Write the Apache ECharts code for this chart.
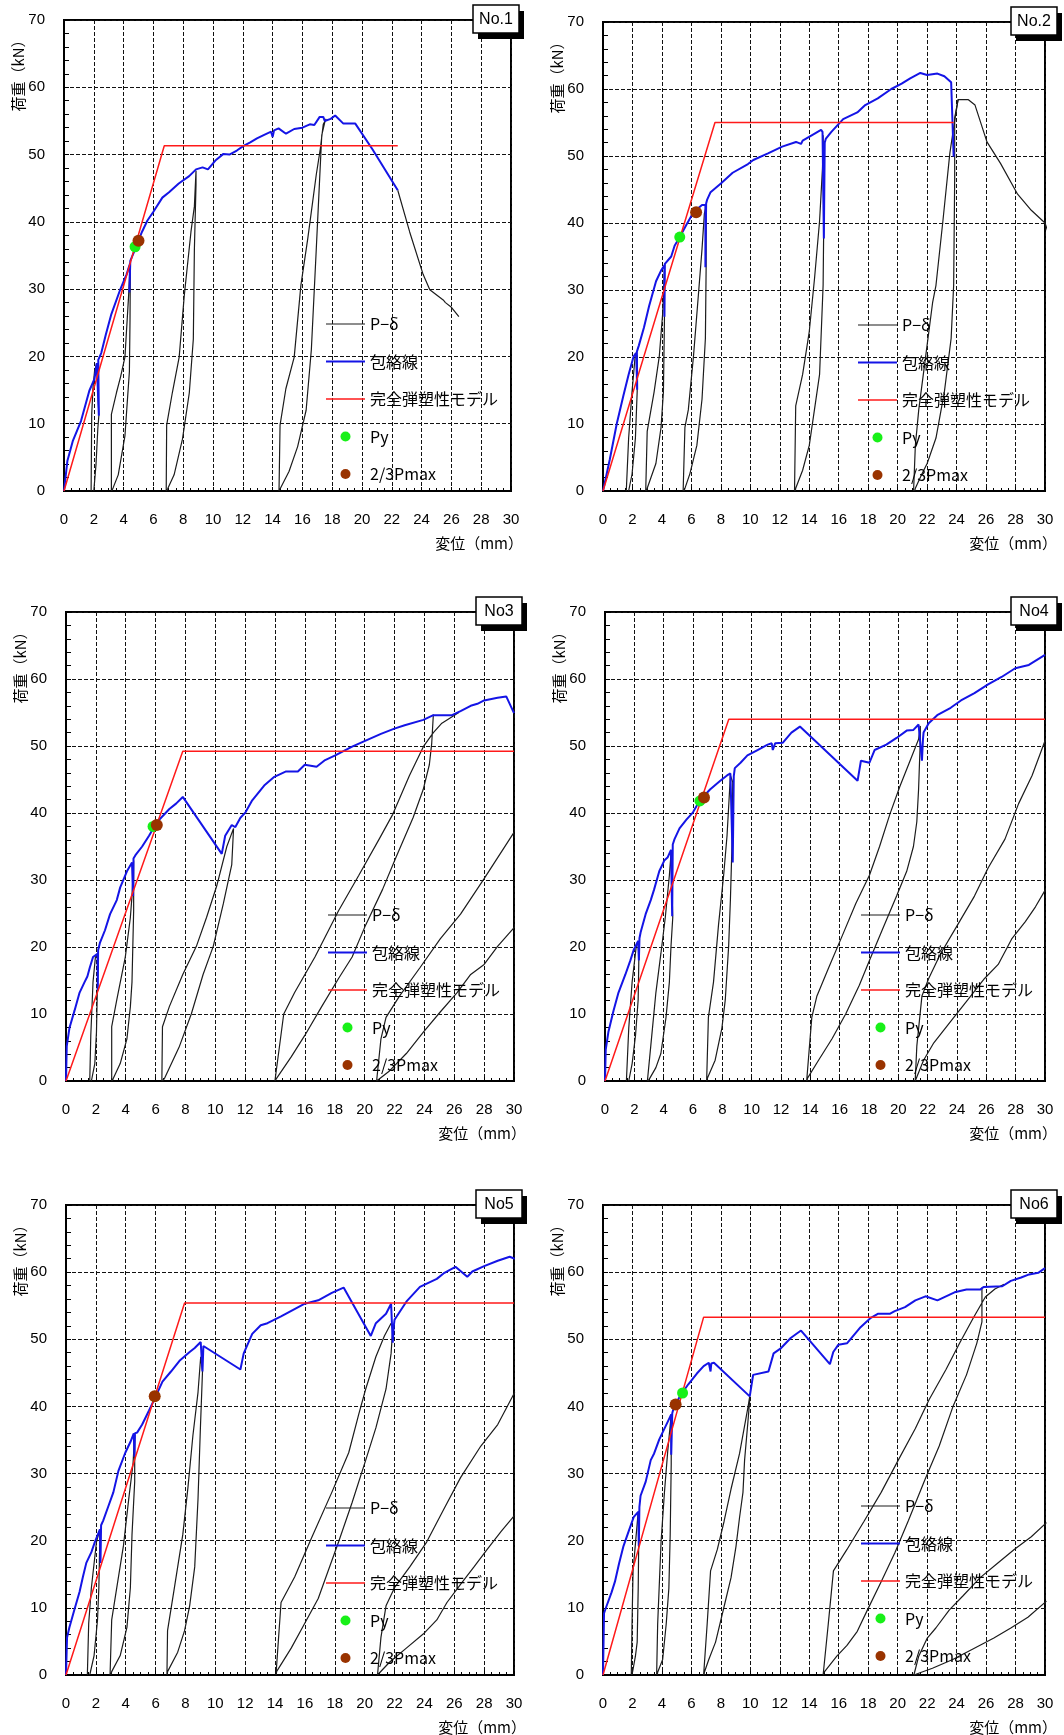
<!DOCTYPE html>
<html><head><meta charset="utf-8">
<script src="https://cdn.jsdelivr.net/npm/echarts@6/dist/echarts.min.js"></script>
<style>html,body{margin:0;padding:0;background:#fff}#c{width:1064px;height:1735px}</style>
</head><body><div id="c"></div>
<script>
// ---------------- axis definition ----------------
const X_MIN = 0, X_MAX = 30, X_STEP = 2;
const Y_MIN = 0, Y_MAX = 70, Y_STEP = 10;
const xAxisTitle = '変位（mm）';
const yAxisTitle = '荷重（kN）';
const seriesNames = ['P−δ', '包絡線', '完全弾塑性モデル', 'Py', '2/3Pmax'];
const panelNames = ['No.1', 'No.2', 'No3', 'No4', 'No5', 'No6'];

// ---------------- No.1 ----------------
const env1 = [[0,0],[0.23,4.5],[0.6,7.5],[1.14,10.4],[1.7,14.9],[2.05,16.7],[2.2,19.0],[2.34,11.2],[2.3,19.5],[2.5,20.5],[2.8,23.2],[3.18,26.3],[3.75,29.8],[4.2,32.2],[4.43,33.8],[4.39,29.5],[4.45,34.2],[4.77,35.9],[5.23,38.5],[5.6,40.2],[6.0,41.5],[6.6,43.6],[7.05,44.4],[7.7,45.7],[8.4,46.8],[8.86,47.8],[9.3,48.1],[9.66,47.8],[10.2,49.2],[10.7,50.1],[11.1,50.0],[11.6,50.6],[12.05,51.3],[12.5,51.8],[12.95,52.4],[13.4,52.9],[13.9,53.4],[14.0,52.6],[14.1,53.6],[14.4,53.9],[14.9,53.1],[15.45,53.8],[16.0,54.0],[16.5,54.5],[16.8,54.4],[17.16,55.6],[17.4,55.6],[17.5,55.0],[17.9,55.3],[18.2,55.8],[18.75,54.6],[19.55,54.6],[20.7,50.8],[22.4,44.7]];
const pd1 = [
 [[1.82,0],[1.86,11.4],[1.95,15.5],[2.05,17.8],[2.2,19.0],[2.34,11.2],[2.27,9.3],[2.15,4],[2.09,2.4],[2.0,0]],
 [[3.18,0],[3.18,11.4],[3.52,14.6],[3.8,17],[4.09,19.9],[4.32,28.4],[4.43,33.2],[4.45,32.7],[4.43,25.3],[4.39,17.8],[4.09,8.2],[3.64,2.4],[3.3,0.5],[3.2,0]],
 [[6.86,0],[6.89,9.8],[7.27,14.6],[7.73,19.9],[8.07,29],[8.52,38.5],[8.75,42.3],[8.86,47.6],[8.98,47.6],[8.86,45.5],[8.75,35.9],[8.68,22.6],[8.41,14.6],[7.95,7.7],[7.39,2.4],[6.95,0.3],[6.86,0]],
 [[14.43,0],[14.5,9.8],[14.89,15.2],[15.45,19.9],[15.9,30.6],[16.36,37.5],[16.93,47],[17.2,50.8],[17.4,54.5],[17.6,55.3],[17.5,54.8],[17.3,52.9],[17.16,46.5],[16.93,35.9],[16.6,21],[16.25,12],[15.68,6.6],[15.1,2.9],[14.5,0.3],[14.43,0]],
 [[22.4,44.7],[23.2,38.5],[24.1,32.2],[24.55,29.9],[25.45,28.4],[25.6,28.0],[26.0,27.3],[26.5,25.9]]
];
const model1 = [[0,0],[6.73,51.3],[22.4,51.3]];
const py1 = [4.77,36.3], pm1 = [5.0,37.2];

// ---------------- No.2 ----------------
const env2 = [[0,0],[0.46,4.7],[0.93,10.0],[1.39,14.3],[1.74,17.4],[2.08,20.1],[2.25,20.6],[2.32,15.1],[2.3,20.8],[2.43,21.7],[2.78,24.4],[3.13,27.6],[3.6,31.3],[3.94,32.9],[4.17,33.7],[4.17,26.0],[4.2,33.9],[4.29,34.0],[4.63,35.0],[4.86,36.6],[5.21,37.9],[5.68,39.8],[6.14,41.6],[6.72,42.7],[6.95,42.7],[6.95,33.4],[7.0,42.9],[7.07,43.5],[7.3,44.6],[8.0,45.9],[8.8,47.5],[9.84,48.8],[10.2,49.4],[11.2,50.4],[12.16,51.4],[13.1,52.1],[13.44,51.8],[13.55,52.3],[14.25,53.2],[14.8,53.9],[14.9,53.6],[14.99,37.7],[15.05,52.0],[15.13,52.6],[15.5,53.6],[16.3,55.5],[17.26,56.5],[17.8,57.6],[18.65,58.6],[19.57,60.0],[20.27,60.8],[20.85,61.6],[21.54,62.4],[22.0,62.1],[22.7,62.3],[23.17,61.9],[23.63,61.0],[23.8,49.9]];
const pd2 = [
 [[1.58,0],[1.74,7.9],[1.97,14.8],[2.2,20.6],[2.32,20.1],[2.32,14.8],[2.2,7.9],[1.97,2.5],[1.74,0]],
 [[2.9,0],[3.0,8.9],[3.47,14.8],[3.82,20.1],[4.05,26.5],[4.17,32.9],[4.17,25.4],[4.1,14.8],[3.94,9.5],[3.59,4.1],[3.0,0.4],[2.95,0]],
 [[5.44,0],[5.56,9.5],[5.79,12.1],[6.14,20.1],[6.49,29.7],[6.72,36.1],[6.88,41.4],[7.0,42.5],[7.0,33.4],[6.95,22.8],[6.72,13.7],[6.37,6.8],[5.9,2.6],[5.56,0.4],[5.5,0]],
 [[13.0,0],[13.08,12.7],[13.55,17.4],[14.0,23.8],[14.36,31.8],[14.7,40.3],[14.9,48.3],[14.94,53.1],[14.99,41.4],[14.94,30.7],[14.7,17.4],[14.0,6.8],[13.55,3.1],[13.08,0.4],[13.05,0]],
 [[21.08,0],[21.2,6.8],[21.43,12.1],[21.9,20.1],[22.37,28.1],[22.6,30.7],[23.07,40.3],[23.54,50.4],[23.9,55.7],[24.1,58.4],[24.8,58.4],[25.25,57.6],[26.06,52.1],[26.98,48.9],[28.14,44.3],[29.07,41.9],[30,40.0],[30.2,38.7]],
 [[21.15,0],[21.2,0.4],[21.66,2.6],[22.0,4.1],[22.6,7.9],[23.17,14.8],[23.63,22.8],[23.8,30.7],[23.87,46.7],[23.87,55.7],[24.1,58.4]]
];
const model2 = [[0,0],[7.6,55.0],[23.8,55.0]];
const py2 = [5.21,37.9], pm2 = [6.32,41.6];

// ---------------- No3 ----------------
const env3 = [[0,0],[0.05,5.2],[0.23,7.9],[0.57,10.5],[0.91,13.2],[1.25,14.8],[1.43,15.6],[1.59,16.9],[1.81,18.5],[2.11,19.0],[2.13,13.5],[2.15,19.5],[2.27,20.6],[2.61,22.5],[2.95,24.9],[3.4,27.0],[3.63,28.9],[4.08,31.3],[4.42,32.6],[4.49,27.6],[4.52,33.2],[4.65,33.7],[5.1,35.0],[5.56,36.6],[5.9,37.9],[6.24,39.0],[6.92,40.6],[7.37,41.4],[7.82,42.4],[10.43,33.9],[10.66,36.6],[11.1,38.2],[11.34,37.9],[11.68,39.3],[12.02,40.1],[12.47,41.9],[13.27,44.1],[13.95,45.4],[14.74,46.2],[15.53,46.2],[15.99,47.2],[16.78,46.9],[17.35,47.9],[18.03,48.6],[19.16,49.9],[19.95,50.7],[21.09,51.8],[21.99,52.6],[22.68,53.1],[23.93,53.9],[24.6,54.6],[25.85,54.6],[26.42,55.2],[27.1,56.0],[27.55,56.3],[28.0,56.8],[28.9,57.2],[29.48,57.4],[30,54.9]];
const pd3 = [
 [[1.59,0],[1.66,6.8],[1.81,14.8],[1.97,18.5],[2.15,19.0],[2.11,14.8],[2.04,7.3],[1.93,2.6],[1.7,0]],
 [[3.06,0],[3.06,8.1],[3.4,12.1],[3.97,18.5],[4.31,24.4],[4.42,27.6],[4.53,32.9],[4.53,25.4],[4.42,14.8],[4.31,11.1],[4.08,6.3],[3.63,2.6],[3.17,0.4],[3.1,0]],
 [[6.42,0],[6.46,8.1],[6.92,11.1],[7.82,15.9],[8.73,20.1],[9.41,24.4],[10.09,29.1],[10.77,35.0],[11.22,37.7],[11.1,32.3],[10.54,26.5],[9.86,20.1],[9.18,15.9],[8.39,10.0],[7.6,5.2],[6.6,0.4],[6.45,0]],
 [[24.6,54.7],[24.49,50.4],[24.33,47.2],[23.92,43.5],[23.24,39.3],[22.1,33.4],[21.2,28.6],[20.07,23.3],[19.16,18.5],[18.25,15.3],[17.12,11.1],[15.99,6.8],[15.08,3.6],[14.1,0.4],[13.99,0],[14.58,10.0],[15.31,13.2],[16.67,18.5],[18.25,25.4],[19.61,30.7],[20.97,36.1],[21.88,39.8],[23.0,45.6],[23.93,49.9],[24.6,52.0],[25.17,53.4],[25.96,54.5],[26.3,55.0]],
 [[30.05,23.0],[28.9,20.1],[28.0,17.4],[27.1,15.9],[26.19,13.2],[25.06,10.3],[23.93,7.3],[22.79,4.1],[21.66,1.5],[20.8,0],[21.09,6.3],[21.43,9.5],[22.34,12.7],[23.7,16.9],[25.06,21.2],[26.42,24.9],[28.0,30.2],[30.0,37.1]]
];
const model3 = [[0,0],[7.82,49.2],[30,49.2]];
const py3 = [5.83,38.0], pm3 = [6.08,38.2];

// ---------------- No4 ----------------
const env4 = [[0,0],[0.05,4.7],[0.23,7.3],[0.58,10.5],[0.92,13.2],[1.39,15.9],[1.73,18.0],[1.96,19.6],[2.26,20.9],[2.31,18.0],[2.35,21.3],[2.43,22.2],[2.77,24.9],[3.12,27.0],[3.35,28.6],[3.7,31.3],[4.04,32.9],[4.28,33.4],[4.5,34.5],[4.58,24.6],[4.62,35.3],[4.74,36.1],[5.08,37.7],[5.55,39.0],[6.0,40.1],[6.47,41.9],[7.16,43.5],[7.86,44.8],[8.32,45.6],[8.55,45.9],[8.71,32.6],[8.78,45.5],[8.85,46.7],[9.24,47.5],[9.71,48.6],[10.4,49.4],[11.09,50.2],[11.37,50.4],[11.44,49.4],[11.6,50.4],[12.13,50.5],[12.71,52.0],[13.29,52.9],[17.22,44.8],[17.45,47.8],[18.03,47.5],[18.38,49.4],[19.18,50.2],[19.88,51.2],[20.57,52.3],[21.03,52.4],[21.38,53.2],[21.5,53.1],[21.61,47.8],[21.68,51.0],[21.72,52.0],[22.07,53.4],[22.65,54.6],[23.57,55.7],[24.27,56.8],[25.19,57.9],[26.12,59.2],[27.04,60.3],[27.97,61.6],[28.9,62.1],[30,63.6]];
const pd4 = [
 [[1.46,0],[1.62,7.9],[1.85,14.8],[2.13,20.1],[2.26,20.9],[2.31,18.5],[2.26,12.1],[2.08,6.8],[1.85,2.6],[1.62,0]],
 [[2.89,0],[3.12,5.2],[3.47,13.2],[3.81,19.0],[4.11,24.4],[4.39,30.7],[4.5,33.9],[4.62,24.4],[4.5,20.1],[4.39,14.8],[4.16,9.5],[3.81,4.1],[3.47,2.0],[3.0,0.2],[2.95,0]],
 [[6.93,0],[7.05,9.5],[7.4,14.8],[7.74,23.3],[8.09,30.7],[8.32,36.6],[8.55,45.6],[8.71,44.6],[8.67,36.1],[8.55,27.0],[8.43,20.1],[8.2,12.1],[7.97,7.9],[7.51,3.1],[6.98,0.4],[6.95,0]],
 [[13.75,0],[14.1,9.5],[14.45,12.7],[15.25,16.9],[16.18,21.7],[17.1,26.5],[18.03,30.7],[18.72,35.0],[19.42,39.8],[20.11,44.0],[20.8,47.8],[21.38,51.0],[21.5,53.0],[21.5,51.0],[21.38,43.5],[21.26,38.7],[21.03,35.0],[20.57,31.3],[19.88,27.6],[18.95,22.8],[18.03,18.0],[17.34,14.3],[16.41,10.0],[15.48,6.3],[14.56,3.1],[13.8,0.4],[13.78,0]],
 [[30.04,28.6],[29.35,26.0],[28.66,23.8],[27.73,21.2],[26.81,17.4],[25.88,15.3],[24.73,12.1],[23.57,8.9],[22.42,5.7],[21.72,3.1],[21.15,0],[21.03,0],[21.26,5.2],[21.61,12.7],[22.07,15.3],[22.88,19.0],[24.04,23.3],[25.19,27.6],[26.12,31.8],[27.27,36.1],[28.2,41.4],[29.12,45.6],[30.04,51.0]]
];
const model4 = [[0,0],[8.44,54.0],[30,54.0]];
const py4 = [6.47,41.8], pm4 = [6.75,42.3];

// ---------------- No5 ----------------
const env5 = [[0,0],[0.07,5.6],[0.23,7.1],[0.57,9.8],[0.91,12.4],[1.13,14.6],[1.36,16.7],[1.7,18.3],[1.93,19.8],[2.27,21.7],[2.31,16.7],[2.35,22.3],[2.49,23.0],[2.83,25.1],[3.17,27.2],[3.51,30.4],[3.97,33.1],[4.31,34.7],[4.54,36.0],[4.58,32.5],[4.62,36.0],[4.76,36.1],[5.1,37.3],[5.56,39.4],[6.01,41.5],[6.46,43.7],[7.03,45.2],[7.6,46.8],[8.28,48.1],[8.62,48.7],[9.02,49.6],[9.14,45.2],[9.2,49.0],[9.25,49.2],[11.68,45.5],[11.9,47.9],[12.47,50.8],[13.04,52.1],[13.49,52.4],[14.4,53.4],[15.99,55.3],[16.89,55.8],[17.8,56.9],[18.59,57.7],[20.41,50.5],[20.75,52.4],[21.43,53.8],[21.77,55.3],[21.88,49.5],[21.95,52.0],[22.0,52.9],[22.79,55.6],[23.7,57.8],[24.83,59.0],[25.28,59.8],[26.08,60.8],[26.87,59.3],[27.21,60.1],[28.0,60.9],[28.91,61.7],[29.71,62.3],[30.05,62.0]];
const pd5 = [
 [[1.43,0],[1.52,7.7],[1.7,13.0],[2.04,19.8],[2.27,21.7],[2.27,20.9],[2.2,13.0],[2.11,8.2],[1.88,2.9],[1.59,0]],
 [[2.95,0],[3.06,8.2],[3.4,13.0],[3.85,19.3],[4.2,26.2],[4.49,31.5],[4.6,36.0],[4.6,28.8],[4.42,20.9],[4.31,13.0],[4.08,7.1],[3.63,2.9],[3.06,0.5],[3.0,0]],
 [[6.76,0],[6.8,6.6],[7.26,13.0],[7.82,20.9],[8.16,27.8],[8.5,35.7],[8.84,42.1],[9.02,47.4],[9.14,45.2],[9.0,36.8],[8.84,26.2],[8.62,16.1],[8.28,10.3],[7.94,6.6],[7.48,3.4],[6.8,0.5],[6.78,0]],
 [[14.06,0],[14.4,10.8],[15.31,14.6],[16.44,20.4],[17.8,27.2],[18.93,33.1],[19.61,38.9],[20.07,42.6],[20.75,47.4],[21.32,50.5],[21.77,52.4],[21.88,51.6],[21.77,47.9],[21.43,42.6],[20.75,36.8],[20.07,32.0],[19.16,25.7],[18.25,19.8],[17.57,15.6],[16.89,11.4],[15.99,7.7],[15.08,4.0],[14.1,0.5],[14.08,0]],
 [[30.05,23.8],[29.14,21.4],[28.23,18.8],[27.32,16.1],[26.42,13.5],[25.51,10.8],[24.83,8.2],[23.92,6.1],[22.79,4.0],[21.66,1.9],[20.86,0],[20.75,0],[21.09,5.6],[21.43,10.3],[22.0,13.0],[23.02,16.1],[24.15,19.8],[25.28,24.6],[26.42,29.4],[27.78,34.1],[28.91,37.3],[30.05,42.1]]
];
const model5 = [[0,0],[7.94,55.4],[30,55.4]];
const py5 = [5.94,41.5], pm5 = [5.94,41.5];

// ---------------- No6 ----------------
const env6 = [[0,0],[0.07,9.2],[0.23,10.2],[0.58,12.3],[0.81,13.9],[1.09,16.6],[1.39,19.2],[1.74,21.4],[2.08,23.5],[2.39,24.3],[2.43,19.2],[2.47,25.0],[2.55,26.7],[2.9,28.8],[3.24,32.0],[3.47,33.0],[3.82,35.1],[4.17,36.7],[4.52,38.3],[4.63,38.8],[4.63,32.8],[4.7,39.0],[4.75,39.4],[5.21,41.5],[5.79,43.3],[6.37,44.9],[6.83,46.0],[7.18,46.5],[7.3,45.2],[7.35,46.4],[7.53,46.5],[9.96,41.5],[10.19,44.7],[11.23,45.2],[11.58,47.9],[12.04,48.6],[12.74,50.2],[13.44,51.3],[15.4,46.3],[15.63,48.1],[15.98,49.2],[16.56,49.4],[17.48,51.8],[18.18,53.2],[18.65,53.8],[19.46,53.8],[19.8,54.2],[20.5,54.8],[21.2,55.8],[21.89,56.4],[22.7,55.8],[23.28,56.4],[23.86,57.0],[24.67,57.4],[25.6,57.4],[25.83,57.8],[27.1,57.9],[27.68,58.7],[28.38,59.2],[28.84,59.6],[29.54,59.9],[30,60.6]];
const pd6 = [
 [[1.92,0],[1.97,7.6],[2.04,15.5],[2.25,20.8],[2.39,24.3],[2.43,20.8],[2.39,12.9],[2.32,4.9],[2.2,2.8],[1.97,0]],
 [[3.64,0],[3.71,7.6],[3.94,19.8],[4.17,27.2],[4.4,33.5],[4.63,38.8],[4.63,31.4],[4.56,20.8],[4.47,12.9],[4.29,7.6],[4.05,2.3],[3.71,0.4],[3.68,0]],
 [[6.83,0],[7.07,7.6],[7.3,15.5],[7.76,18.7],[8.22,22.9],[8.69,27.7],[9.27,33.0],[9.84,39.9],[9.96,41.5],[9.96,41.0],[9.84,37.8],[9.61,32.0],[9.5,27.2],[9.27,23.5],[9.03,19.2],[8.69,14.5],[8.22,10.2],[7.64,4.9],[7.18,2.3],[6.88,0.4],[6.86,0]],
 [[25.72,57.7],[25.72,52.6],[25.37,49.4],[24.67,44.7],[23.74,39.9],[22.82,34.1],[21.89,29.3],[20.73,23.0],[19.81,18.2],[18.88,13.9],[17.95,9.7],[17.26,6.5],[16.56,4.4],[15.87,2.8],[15.0,0.4],[14.94,0],[15.29,7.6],[15.64,15.5],[16.56,18.7],[17.72,22.9],[18.88,27.2],[20.04,32.0],[21.2,36.7],[22.13,41.0],[23.28,45.5],[24.2,49.4],[25.14,53.2],[25.95,56.3],[26.6,57.5],[27.22,58.2]],
 [[30.1,11.0],[28.84,8.6],[27.68,7.0],[26.53,5.5],[25.14,3.9],[23.74,2.3],[22.36,1.0],[21.1,0],[21.08,0],[21.43,2.8],[22.01,5.5],[22.59,7.0],[23.51,9.7],[24.44,11.8],[25.6,14.5],[26.76,16.6],[27.91,18.7],[29.07,20.6],[30.1,22.7]]
];
const model6 = [[0,0],[6.83,53.3],[30,53.3]];
const py6 = [5.4,42.0], pm6 = [4.93,40.3];

const envs = [env1, env2, env3, env4, env5, env6];
const pds = [pd1, pd2, pd3, pd4, pd5, pd6];
const models = [model1, model2, model3, model4, model5, model6];
const pys = [py1, py2, py3, py4, py5, py6];
const pms = [pm1, pm2, pm3, pm4, pm5, pm6];

// ---------------- layout (pixels) ----------------
const layout = [
  {l: 64, t: 20, w: 447, h: 471, r: 0},
  {l: 603, t: 22, w: 442, h: 469, r: 1},
  {l: 66, t: 612, w: 448, h: 469, r: 0},
  {l: 605, t: 612, w: 440, h: 469, r: 1},
  {l: 66, t: 1205, w: 448, h: 470, r: 0},
  {l: 603, t: 1205, w: 442, h: 470, r: 1}
];
const legendPos = [
  {x: 326, y: 316}, {x: 858, y: 317}, {x: 328, y: 907},
  {x: 861, y: 907}, {x: 326, y: 1500}, {x: 861, y: 1498}
];
const NUMF = "'Liberation Sans','Noto Sans CJK JP',sans-serif";
const JPF = "'Noto Sans CJK JP','Liberation Sans',sans-serif";
const C_PD = '#1c1c1c', C_ENV = '#1414e6', C_MODEL = '#ff1a1a', C_PY = '#18f018', C_PM = '#993300';
// thin horizontal bar icons for line legend entries (bounding box 39 x 10)
const lineIcon = (w) => 'path://M0,0M39,10M0,' + (5 - w / 2) + 'H39V' + (5 + w / 2) + 'H0Z';

const grids = [], xAxes = [], yAxes = [], series = [], legends = [], graphics = [];
layout.forEach((g, i) => {
  grids.push({left: g.l, top: g.t, width: g.w, height: g.h, show: true,
    borderColor: '#000', borderWidth: 2, backgroundColor: 'rgba(0,0,0,0)'});
  xAxes.push({type: 'value', gridIndex: i, min: X_MIN, max: X_MAX, interval: X_STEP,
    axisLine: {show: true, onZero: false, lineStyle: {color: '#000', width: 2}},
    axisTick: {show: true, inside: true, length: 4, lineStyle: {color: '#000', width: 1}},
    minorTick: {show: true, splitNumber: 4, length: 3, lineStyle: {color: '#000', width: 1}},
    splitLine: {show: true, lineStyle: {color: '#111', width: 1, type: [4, 2]}},
    axisLabel: {margin: 21, fontSize: 15, color: '#000', fontFamily: NUMF}});
  yAxes.push({type: 'value', gridIndex: i, min: Y_MIN, max: Y_MAX, interval: Y_STEP,
    axisLine: {show: true, onZero: false, lineStyle: {color: '#000', width: 2}},
    axisTick: {show: true, inside: true, length: 5, lineStyle: {color: '#000', width: 1}},
    minorTick: {show: true, splitNumber: 5, length: 5, lineStyle: {color: '#000', width: 1}},
    splitLine: {show: true, lineStyle: {color: '#111', width: 1, type: [4, 2]}},
    axisLabel: {margin: 19, fontSize: 15, color: '#000', fontFamily: NUMF}});

  pds[i].forEach(loop => series.push({type: 'line', name: seriesNames[0], xAxisIndex: i, yAxisIndex: i,
    data: loop, symbol: 'none', z: 2, lineStyle: {color: C_PD, width: 1.2}, itemStyle: {color: C_PD}}));
  series.push({type: 'line', name: seriesNames[1], xAxisIndex: i, yAxisIndex: i, data: envs[i],
    symbol: 'none', z: 3, lineStyle: {color: C_ENV, width: 2}, itemStyle: {color: C_ENV}});
  series.push({type: 'line', name: seriesNames[2], xAxisIndex: i, yAxisIndex: i, data: models[i],
    symbol: 'none', z: 4, lineStyle: {color: C_MODEL, width: 1.5}, itemStyle: {color: C_MODEL}});
  series.push({type: 'scatter', name: seriesNames[3], xAxisIndex: i, yAxisIndex: i, data: [pys[i]],
    symbolSize: 11, z: 5, itemStyle: {color: C_PY, opacity: 1}});
  series.push({type: 'scatter', name: seriesNames[4], xAxisIndex: i, yAxisIndex: i, data: [pms[i]],
    symbolSize: 12, z: 6, itemStyle: {color: C_PM, opacity: 1}});

  const lp = legendPos[i];
  legends.push({left: lp.x, top: lp.y, orient: 'vertical', padding: 0, itemWidth: 39, itemHeight: 10,
    itemGap: 21.5, selectedMode: false,
    textStyle: {fontSize: 16, color: '#000', fontFamily: JPF},
    data: [
      {name: seriesNames[0], icon: lineIcon(1.2), itemStyle: {color: C_PD}},
      {name: seriesNames[1], icon: lineIcon(2), itemStyle: {color: C_ENV}},
      {name: seriesNames[2], icon: lineIcon(1.5), itemStyle: {color: C_MODEL}},
      {name: seriesNames[3], icon: 'circle', itemStyle: {color: C_PY}},
      {name: seriesNames[4], icon: 'circle', itemStyle: {color: C_PM}}
    ]});

  // axis titles
  graphics.push({type: 'text', z: 100, x: g.l - 46, y: g.t + 52, rotation: Math.PI / 2,
    style: {text: yAxisTitle, fill: '#000', fontSize: 15, fontFamily: JPF, align: 'center', verticalAlign: 'middle'}});
  graphics.push({type: 'text', z: 100, x: g.l + g.w + 12, y: g.t + g.h + 52,
    style: {text: xAxisTitle, fill: '#000', fontSize: 15, fontFamily: JPF, align: 'right', verticalAlign: 'middle'}});
  // specimen label box with shadow
  const bx = g.l + g.w - 38 + (g.r ? 4 : 0), by = g.t - 15, bw = 46, bh = 28;
  graphics.push({type: 'rect', z: 100, shape: {x: bx + 5, y: by + 6, width: bw, height: bh}, style: {fill: '#000'}});
  graphics.push({type: 'rect', z: 101, shape: {x: bx, y: by, width: bw, height: bh}, style: {fill: '#fff', stroke: '#000', lineWidth: 1.5}});
  graphics.push({type: 'text', z: 102, x: bx + bw / 2, y: by + bh / 2 + 1,
    style: {text: panelNames[i], fill: '#000', fontSize: 16, fontFamily: NUMF, align: 'center', verticalAlign: 'middle'}});
});

const chart = echarts.init(document.getElementById('c'), null, {renderer: 'canvas'});
chart.setOption({
  animation: false,
  backgroundColor: '#fff',
  grid: grids, xAxis: xAxes, yAxis: yAxes, series: series, legend: legends, graphic: graphics
});
</script></body></html>
